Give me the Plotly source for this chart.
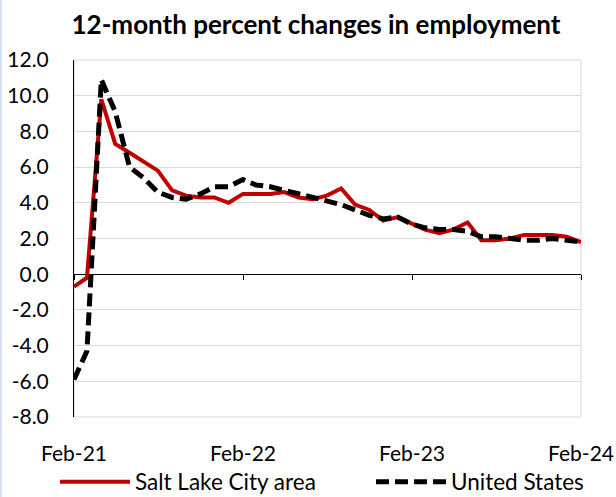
import plotly.graph_objects as go
import pandas as pd

months = pd.date_range("2021-02-01", "2024-02-01", freq="MS")

slc_values = [-0.7, -0.2, 9.8, 7.3, 6.8, 6.3, 5.8, 4.7, 4.4, 4.3, 4.3, 4.0,
              4.5, 4.5, 4.5, 4.6, 4.3, 4.2, 4.4, 4.8, 3.9, 3.6, 3.0, 3.2,
              2.8, 2.5, 2.3, 2.5, 2.9, 1.9, 1.9, 2.0, 2.2, 2.2, 2.2, 2.1, 1.8]
us_values = [-5.9, -4.3, 10.9, 9.1, 6.0, 5.4, 4.6, 4.3, 4.2, 4.5, 4.9, 4.9,
             5.3, 5.0, 4.9, 4.7, 4.5, 4.3, 4.1, 3.9, 3.6, 3.3, 3.1, 3.2,
             2.8, 2.6, 2.5, 2.5, 2.4, 2.1, 2.1, 2.0, 1.9, 1.9, 2.0, 1.9, 1.8]

x_tick_dates = ["2021-02-01", "2022-02-01", "2023-02-01", "2024-02-01"]
x_tick_labels = ["Feb-21", "Feb-22", "Feb-23", "Feb-24"]
y_ticks = [-8, -6, -4, -2, 0, 2, 4, 6, 8, 10, 12]
y_tick_labels = [f"{v:.1f}" for v in y_ticks]

FONT = "Lato"

fig = go.Figure()
fig.add_trace(go.Scatter(
    x=months, y=slc_values, mode="lines", name="Salt Lake City area",
    line=dict(color="#c00000", width=4), xaxis="x", yaxis="y",
    legend="legend", showlegend=True))
fig.add_trace(go.Scatter(
    x=months, y=us_values, mode="lines", name="United States",
    line=dict(color="#000000", width=5, dash="13px,6px"), xaxis="x2", yaxis="y",
    legend="legend2", showlegend=True))

xr = [x_tick_dates[0], x_tick_dates[-1]]

legend_common = dict(orientation="h", xref="container", yref="container",
                     xanchor="left", y=1-482/497, yanchor="middle",
                     font=dict(family=FONT, size=22.5), itemwidth=70,
                     bgcolor="rgba(0,0,0,0)", visible=True)

fig.update_layout(
    width=616, height=497, showlegend=True,
    margin=dict(l=74, r=35, t=60, b=80, autoexpand=False),
    paper_bgcolor="white", plot_bgcolor="white",
    font=dict(family=FONT, size=21, color="#000000"),
    title=dict(text="<b>12-month percent changes in employment</b>",
               x=316/616, xref="container", xanchor="center",
               y=1-25/497, yref="container", yanchor="middle",
               font=dict(family=FONT, size=26, color="#000000"),
               automargin=False),
    xaxis=dict(type="date", range=xr, tickvals=x_tick_dates, ticktext=x_tick_labels,
               showgrid=False, showline=False, zeroline=False, ticks="",
               ticklabelstandoff=22, tickfont=dict(size=21), automargin=False),
    xaxis2=dict(type="date", overlaying="x", matches="x", anchor="free", position=0.4,
                tickvals=x_tick_dates, showticklabels=False, showgrid=False,
                showline=True, linecolor="#000000", linewidth=1,
                ticks="outside", ticklen=5, tickcolor="#000000", layer="below traces",
                automargin=False),
    xaxis3=dict(type="date", overlaying="x", matches="x", anchor="free", position=0.4,
                tickvals=x_tick_dates, showticklabels=False, showgrid=False,
                showline=False, ticks="inside", ticklen=5, tickcolor="#000000",
                layer="below traces", automargin=False),
    yaxis=dict(range=[-8, 12], tickvals=y_ticks, ticktext=y_tick_labels,
               showgrid=True, gridcolor="#d9d9d9", gridwidth=1,
               zeroline=False, showline=True, linecolor="#000000", linewidth=1,
               ticks="", ticklabelstandoff=20, tickfont=dict(size=21),
               layer="below traces", automargin=False),
    legend=dict(x=55/616, **legend_common),
    legend2=dict(x=371/616, **legend_common),
    shapes=[dict(type="rect", xref="paper", yref="paper", x0=0, x1=1, y0=0, y1=1,
                 line=dict(color="#d9d9d9", width=1), layer="below"),
            dict(type="rect", xref="paper", yref="paper", x0=-74/507, x1=-72/507,
                 y0=-80/357, y1=(357+60)/357, line=dict(width=0),
                 fillcolor="#dae3f3", layer="below")],
)

fig.write_html("out.html", config={"displayModeBar": False},
               post_script="document.body.style.margin='0';document.body.style.overflow='hidden';")
